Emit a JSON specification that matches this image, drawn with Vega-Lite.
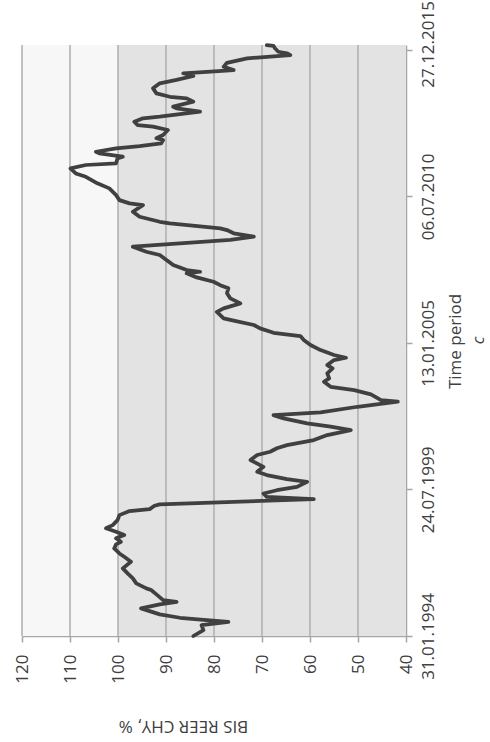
{
  "$schema": "https://vega.github.io/schema/vega-lite/v6.json",
  "width": 384,
  "height": 591,
  "autosize": "none",
  "padding": {"left": 22, "top": 45, "right": 84, "bottom": 106},
  "background": "white",
  "config": {
    "view": {"stroke": null},
    "font": "Open Sans",
    "axis": {
      "labelFont": "Open Sans",
      "titleFont": "Open Sans",
      "labelColor": "#404040",
      "titleColor": "#404040",
      "domainColor": "#a6a6a6",
      "tickColor": "#a6a6a6",
      "domainWidth": 1.5,
      "tickWidth": 1.5,
      "titleFontWeight": "normal",
      "grid": false
    }
  },
  "title": {
    "text": "c",
    "orient": "right",
    "anchor": "middle",
    "angle": 270,
    "fontStyle": "italic",
    "fontWeight": "normal",
    "font": "Open Sans",
    "fontSize": 17,
    "color": "#404040",
    "baseline": "alphabetic",
    "offset": 4
  },
  "layer": [
    {
      "data": {"values": [{"lo": 100, "hi": 120}]},
      "mark": {"type": "rect", "fill": "#f7f7f7"},
      "encoding": {
        "x": {
          "field": "lo",
          "type": "quantitative",
          "scale": {"domain": [40, 120], "reverse": true, "nice": false, "zero": false},
          "axis": {
            "orient": "bottom",
            "values": [40, 50, 60, 70, 80, 90, 100, 110, 120],
            "labelAngle": 270,
            "labelAlign": "right",
            "labelBaseline": "middle",
            "labelFontSize": 17,
            "labelPadding": 12,
            "tickSize": 6,
            "title": "BIS REER CHY, %",
            "titleFontSize": 17,
            "titleAngle": 180,
            "titleAlign": "center",
            "titleBaseline": "middle",
            "titleX": 161,
            "titleY": 89
          }
        },
        "x2": {"field": "hi"}
      }
    },
    {
      "data": {"values": [{"lo": 40, "hi": 100}]},
      "mark": {"type": "rect", "fill": "#e3e3e3"},
      "encoding": {
        "x": {"field": "lo", "type": "quantitative"},
        "x2": {"field": "hi"}
      }
    },
    {
      "data": {"values": [{"g": 50}, {"g": 60}, {"g": 70}, {"g": 80}, {"g": 90}, {"g": 100}, {"g": 110}, {"g": 120}]},
      "mark": {"type": "rule", "color": "#aeaeae", "strokeWidth": 1.5},
      "encoding": {"x": {"field": "g", "type": "quantitative"}}
    },
    {
      "data": {"values": [
        {"d": "1994-01-31", "v": 84.3}, {"d": "1994-04-21", "v": 82.2}, {"d": "1994-06-28", "v": 82.6},
        {"d": "1994-08-13", "v": 77.0}, {"d": "1994-09-05", "v": 81.5}, {"d": "1994-10-07", "v": 87.1},
        {"d": "1994-11-22", "v": 91.3}, {"d": "1995-02-12", "v": 95.2}, {"d": "1995-04-07", "v": 91.3},
        {"d": "1995-05-12", "v": 87.8}, {"d": "1995-06-05", "v": 90.6}, {"d": "1995-08-22", "v": 92.0},
        {"d": "1995-10-20", "v": 93.1}, {"d": "1995-11-12", "v": 94.1}, {"d": "1996-01-20", "v": 96.2},
        {"d": "1996-03-27", "v": 96.9}, {"d": "1996-06-04", "v": 98.0}, {"d": "1996-08-11", "v": 99.0},
        {"d": "1996-11-10", "v": 97.3}, {"d": "1997-01-17", "v": 98.7}, {"d": "1997-03-03", "v": 99.7},
        {"d": "1997-05-10", "v": 100.8}, {"d": "1997-07-04", "v": 100.4}, {"d": "1997-08-09", "v": 99.4},
        {"d": "1997-09-25", "v": 100.4}, {"d": "1997-11-09", "v": 98.7}, {"d": "1997-12-24", "v": 100.4},
        {"d": "1998-02-09", "v": 102.5}, {"d": "1998-03-24", "v": 101.1}, {"d": "1998-06-01", "v": 100.1},
        {"d": "1998-08-08", "v": 99.7}, {"d": "1998-10-02", "v": 97.6}, {"d": "1998-10-29", "v": 93.4},
        {"d": "1998-12-13", "v": 92.4}, {"d": "1999-01-02", "v": 91.3}, {"d": "1999-03-13", "v": 59.2},
        {"d": "1999-04-14", "v": 69.0}, {"d": "1999-05-30", "v": 69.7}, {"d": "1999-07-14", "v": 66.9},
        {"d": "1999-08-29", "v": 62.7}, {"d": "1999-11-06", "v": 60.6}, {"d": "1999-12-12", "v": 64.8},
        {"d": "2000-02-06", "v": 69.0}, {"d": "2000-03-21", "v": 71.0}, {"d": "2000-05-28", "v": 69.7},
        {"d": "2000-08-28", "v": 72.4}, {"d": "2000-11-05", "v": 71.0}, {"d": "2000-12-20", "v": 68.3},
        {"d": "2001-02-06", "v": 66.9}, {"d": "2001-03-20", "v": 64.8}, {"d": "2001-05-28", "v": 59.2},
        {"d": "2001-08-05", "v": 56.4}, {"d": "2001-10-12", "v": 51.5}, {"d": "2001-11-27", "v": 55.7},
        {"d": "2002-01-12", "v": 60.6}, {"d": "2002-03-20", "v": 65.5}, {"d": "2002-05-04", "v": 67.6},
        {"d": "2002-06-10", "v": 57.8}, {"d": "2002-08-26", "v": 50.1}, {"d": "2002-11-03", "v": 41.7},
        {"d": "2002-11-26", "v": 45.2}, {"d": "2003-02-12", "v": 47.3}, {"d": "2003-04-10", "v": 50.8},
        {"d": "2003-05-25", "v": 55.7}, {"d": "2003-08-02", "v": 57.1}, {"d": "2003-09-18", "v": 56.0},
        {"d": "2003-11-25", "v": 56.4}, {"d": "2004-02-02", "v": 55.3}, {"d": "2004-03-17", "v": 56.4},
        {"d": "2004-05-24", "v": 55.0}, {"d": "2004-06-25", "v": 52.5}, {"d": "2004-08-01", "v": 55.0},
        {"d": "2004-10-08", "v": 57.8}, {"d": "2004-12-16", "v": 59.9}, {"d": "2005-02-23", "v": 61.3},
        {"d": "2005-04-17", "v": 62.0}, {"d": "2005-06-01", "v": 67.6}, {"d": "2005-07-31", "v": 70.4},
        {"d": "2005-09-15", "v": 71.7}, {"d": "2005-11-13", "v": 75.9}, {"d": "2005-12-15", "v": 78.0},
        {"d": "2006-03-14", "v": 79.4}, {"d": "2006-04-30", "v": 78.0}, {"d": "2006-07-07", "v": 74.5},
        {"d": "2006-09-14", "v": 76.6}, {"d": "2006-11-22", "v": 77.3}, {"d": "2007-01-29", "v": 77.0},
        {"d": "2007-03-13", "v": 78.7}, {"d": "2007-04-28", "v": 80.1}, {"d": "2007-06-27", "v": 83.6},
        {"d": "2007-08-21", "v": 85.7}, {"d": "2007-09-12", "v": 82.9}, {"d": "2007-10-05", "v": 85.7},
        {"d": "2007-12-12", "v": 88.5}, {"d": "2008-02-20", "v": 89.9}, {"d": "2008-04-27", "v": 91.3},
        {"d": "2008-06-11", "v": 94.1}, {"d": "2008-08-19", "v": 96.9}, {"d": "2008-11-19", "v": 76.6},
        {"d": "2009-01-03", "v": 71.7}, {"d": "2009-02-18", "v": 75.9}, {"d": "2009-04-03", "v": 77.3},
        {"d": "2009-04-26", "v": 78.7}, {"d": "2009-07-03", "v": 89.2}, {"d": "2009-07-25", "v": 91.3},
        {"d": "2009-10-02", "v": 95.5}, {"d": "2009-12-09", "v": 96.9}, {"d": "2010-03-09", "v": 94.8},
        {"d": "2010-04-02", "v": 97.6}, {"d": "2010-05-17", "v": 99.7}, {"d": "2010-07-24", "v": 100.4},
        {"d": "2010-10-24", "v": 101.8}, {"d": "2011-01-01", "v": 104.3}, {"d": "2011-03-31", "v": 106.7},
        {"d": "2011-05-16", "v": 108.8}, {"d": "2011-07-23", "v": 109.9}, {"d": "2011-09-08", "v": 106.7},
        {"d": "2011-10-01", "v": 100.4}, {"d": "2011-12-08", "v": 100.1}, {"d": "2011-12-30", "v": 99.0},
        {"d": "2012-02-15", "v": 103.9}, {"d": "2012-03-07", "v": 104.6}, {"d": "2012-04-22", "v": 100.4},
        {"d": "2012-05-23", "v": 95.5}, {"d": "2012-06-30", "v": 91.0}, {"d": "2012-08-14", "v": 90.6},
        {"d": "2012-09-07", "v": 92.0}, {"d": "2012-10-22", "v": 90.6}, {"d": "2012-12-29", "v": 89.6},
        {"d": "2013-02-13", "v": 92.7}, {"d": "2013-03-06", "v": 95.9}, {"d": "2013-04-20", "v": 96.6},
        {"d": "2013-06-06", "v": 94.8}, {"d": "2013-06-28", "v": 91.3}, {"d": "2013-09-05", "v": 82.9},
        {"d": "2013-10-21", "v": 87.8}, {"d": "2013-11-12", "v": 88.5}, {"d": "2014-01-20", "v": 84.3},
        {"d": "2014-03-05", "v": 85.7}, {"d": "2014-03-27", "v": 89.2}, {"d": "2014-05-13", "v": 92.0},
        {"d": "2014-07-20", "v": 92.7}, {"d": "2014-09-27", "v": 91.3}, {"d": "2014-11-12", "v": 87.8},
        {"d": "2015-01-05", "v": 84.3}, {"d": "2015-02-11", "v": 86.4}, {"d": "2015-03-03", "v": 81.5},
        {"d": "2015-03-26", "v": 75.9}, {"d": "2015-05-10", "v": 78.0}, {"d": "2015-07-04", "v": 77.3},
        {"d": "2015-09-03", "v": 73.1}, {"d": "2015-10-18", "v": 64.1}, {"d": "2015-11-11", "v": 64.8},
        {"d": "2015-12-02", "v": 66.6}, {"d": "2016-01-18", "v": 67.3}, {"d": "2016-02-19", "v": 67.6},
        {"d": "2016-03-02", "v": 69.0}
      ]},
      "mark": {"type": "line", "color": "#404040", "strokeWidth": 3.75, "strokeJoin": "round", "strokeCap": "round"},
      "encoding": {
        "x": {"field": "v", "type": "quantitative"},
        "y": {
          "field": "d",
          "type": "temporal",
          "scale": {"domain": [{"year": 1994, "month": 1, "date": 31}, {"year": 2016, "month": 3, "date": 3}], "nice": false},
          "axis": {
            "orient": "right",
            "values": [
              {"year": 1994, "month": 1, "date": 31},
              {"year": 1999, "month": 7, "date": 24},
              {"year": 2005, "month": 1, "date": 13},
              {"year": 2010, "month": 7, "date": 6},
              {"year": 2015, "month": 12, "date": 27}
            ],
            "format": "%d.%m.%Y",
            "labelAngle": 270,
            "labelAlign": "center",
            "labelBaseline": "top",
            "labelFontSize": 17,
            "labelPadding": 8,
            "labelOffset": {"condition": {"test": "datum.value > 1420070400000", "value": -6}, "value": 0},
            "labelOverlap": false,
            "labelBound": false,
            "tickSize": 6,
            "title": "Time period",
            "titleFontSize": 17,
            "titleAngle": 270,
            "titleAlign": "center",
            "titleBaseline": "alphabetic",
            "titleX": 54,
            "titleY": 296
          }
        },
        "order": {"field": "d", "type": "temporal"}
      }
    }
  ]
}
